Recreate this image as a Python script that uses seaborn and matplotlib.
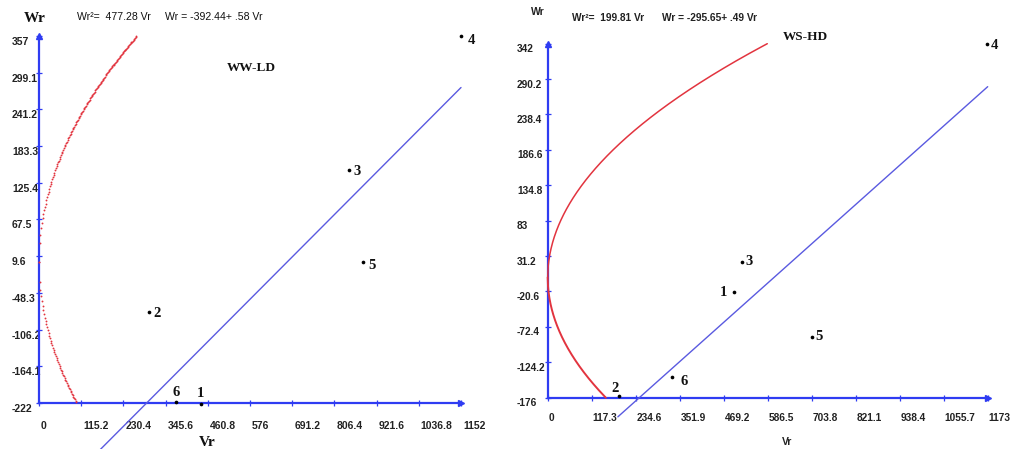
import numpy as np
import matplotlib
matplotlib.use("Agg")
import matplotlib.pyplot as plt
import matplotlib.transforms as mtransforms
import seaborn as sns

# ---- WW-LD panel -------------------------------------------------------
ww_arrays = ["1", "2", "3", "4", "5", "6"]
ww_vr = [442, 300, 846, 1152, 884, 374]
ww_wr = [-223, -78, 146, 357, 1, -221]
ww_vp = 477.28                      # Wr^2 = Vp * Vr
ww_a, ww_b = -392.44, 0.58          # regression Wr = a + b Vr
ww_xticks = [0, 115.2, 230.4, 345.6, 460.8, 576, 691.2, 806.4, 921.6, 1036.8, 1152]
ww_yticks = [-222, -164.1, -106.2, -48.3, 9.6, 67.5, 125.4, 183.3, 241.2, 299.1, 357]

# ---- WS-HD panel -------------------------------------------------------
ws_arrays = ["1", "2", "3", "4", "5", "6"]
ws_vr = [497, 190, 519, 1170, 705, 331]
ws_wr = [-21, -174, 23, 342, -87, -145]
ws_vp = 199.81
ws_a, ws_b = -295.65, 0.49
ws_xticks = [0, 117.3, 234.6, 351.9, 469.2, 586.5, 703.8, 821.1, 938.4, 1055.7, 1173]
ws_yticks = [-176, -124.2, -72.4, -20.6, 31.2, 83, 134.8, 186.6, 238.4, 290.2, 342]

BLUE = "#2f3cf2"
LINE_BLUE = "#5a5ae0"
RED = "#e2343f"
SERIF = "Liberation Serif"
SANS = ["Liberation Sans", "DejaVu Sans"]

sns.set_theme(style="white")
plt.rcParams["font.family"] = SANS

W, H = 1010, 449
fig = plt.figure(figsize=(W / 100, H / 100), dpi=100)


def px_offset(dx, dy):
    return mtransforms.Affine2D().translate(dx, dy)


def setup_axes(ax, xticks, yticks, tick_size, ypad, yshift, xpad, xshift):
    ax.set_facecolor("white")
    ax.grid(False)
    for side in ("top", "right"):
        ax.spines[side].set_visible(False)
    ax.spines["left"].set_position(("data", 0))
    ax.spines["bottom"].set_position(("data", yticks[0]))
    ax.spines["left"].set_bounds(yticks[0], yticks[-1])
    ax.spines["bottom"].set_bounds(0, xticks[-1])
    for side in ("left", "bottom"):
        ax.spines[side].set_color(BLUE)
        ax.spines[side].set_linewidth(1.6)
        ax.spines[side].set_zorder(1)
    ax.set_xticks(xticks, [f"{v:g}" for v in xticks])
    ax.set_yticks(yticks, [f"{v:g}" for v in yticks])
    ax.tick_params(bottom=True, left=True, direction="inout", length=4.5,
                   width=0.9, color=BLUE)
    ax.tick_params(axis="y", pad=ypad)
    ax.tick_params(axis="x", pad=xpad)
    ax.set_xlabel("")
    ax.set_ylabel("")
    for lab in ax.get_yticklabels():
        lab.set_ha("left")
        lab.set_va("center")
        lab.set_fontsize(tick_size)
        lab.set_fontweight("bold")
        lab.set_color("#222222")
        lab.set_transform(lab.get_transform() + px_offset(0, yshift))
    for lab in ax.get_xticklabels():
        lab.set_ha("left")
        lab.set_va("top")
        lab.set_fontsize(tick_size)
        lab.set_fontweight("bold")
        lab.set_color("#222222")
        lab.set_transform(lab.get_transform() + px_offset(xshift, 0))
    # arrow heads at the axis ends
    ax.plot([0], [yticks[-1]], marker="^", color=BLUE, markersize=5,
            clip_on=False, zorder=3)
    ax.plot([xticks[-1]], [yticks[0]], marker=">", color=BLUE, markersize=5,
            clip_on=False, zorder=3)


def draw_points(ax, vr, wr, names, offsets, size):
    sns.scatterplot(x=vr, y=wr, ax=ax, color="black", s=7, linewidth=0,
                    zorder=4, legend=False)
    for x, y, name, (dx, dy) in zip(vr, wr, names, offsets):
        ax.annotate(name, (x, y), xytext=(dx, dy), textcoords="offset pixels",
                    ha="center", va="center", family=SERIF,
                    fontweight="bold", fontsize=size, color="#111111")


# ======================= left panel: WW-LD ==============================
axL = fig.add_axes([0, 0, 505 / W, 1])
sxL, syL = 115.2 / 42.2, 57.9 / 36.7
axL.set_xlim(-39 * sxL, (505 - 39) * sxL)
axL.set_ylim(-222 - 46 * syL, -222 + 403 * syL)

# limiting parabola Wr^2 = Vp*Vr, sampled evenly in Vr
vr_up = np.arange(0, ww_yticks[-1] ** 2 / ww_vp, 2.0)
vr_lo = np.arange(0, ww_yticks[0] ** 2 / ww_vp, 2.0)
sns.scatterplot(x=np.r_[vr_up, vr_lo],
                y=np.r_[np.sqrt(ww_vp * vr_up), -np.sqrt(ww_vp * vr_lo)],
                ax=axL, color=RED, s=1.8, linewidth=0, legend=False, zorder=2)

vr_reg = np.linspace(160, ww_xticks[-1], 50)
sns.lineplot(x=vr_reg, y=ww_a + ww_b * vr_reg, ax=axL, color=LINE_BLUE,
             linewidth=1.0, zorder=2)

setup_axes(axL, ww_xticks, ww_yticks, 7.5,
           ypad=17.2, yshift=-6, xpad=10.5, xshift=2)

draw_points(axL, ww_vr, ww_wr, ww_arrays,
            [(0, 10), (8, -2), (8, -2), (10, -5), (9, -4), (0, 10)], 10.5)

fig.text(35 / W, 1 - 19 / H, "Wr", family=SERIF, fontweight="bold",
         fontsize=11, ha="center", va="center", color="#111111")
fig.text(77 / W, 1 - 17 / H, "Wr²=  477.28 Vr",
         fontsize=7.6, ha="left", va="center", color="#111111")
fig.text(165 / W, 1 - 17 / H, "Wr = -392.44+ .58 Vr",
         fontsize=7.6, ha="left", va="center", color="#111111")
fig.text(251 / W, 1 - 68 / H, "WW-LD", family=SERIF, fontweight="bold",
         fontsize=9.5, ha="center", va="center", color="#111111")
fig.text(207 / W, 1 - 442 / H, "Vr", family=SERIF, fontweight="bold",
         fontsize=11, ha="center", va="center", color="#111111")

# ======================= right panel: WS-HD =============================
axR = fig.add_axes([505 / W, 0, 505 / W, 1])
sxR, syR = 117.3 / 44.0, 51.8 / 35.4
x0R = 547.7 - 505
axR.set_xlim(-x0R * sxR, (505 - x0R) * sxR)
axR.set_ylim(-176 - (449 - 397.7) * syR, -176 + 397.7 * syR)

vr_up = np.linspace(0, ws_yticks[-1] ** 2 / ws_vp, 400)
vr_lo = np.linspace(0, ws_yticks[0] ** 2 / ws_vp, 200)
sns.lineplot(x=vr_up, y=np.sqrt(ws_vp * vr_up), ax=axR, color=RED,
             linewidth=1.1, zorder=2)
sns.lineplot(x=vr_lo, y=-np.sqrt(ws_vp * vr_lo), ax=axR, color=RED,
             linewidth=1.4, zorder=2)

vr_reg = np.linspace(187, ws_xticks[-1], 50)
sns.lineplot(x=vr_reg, y=ws_a + ws_b * vr_reg, ax=axR, color=LINE_BLUE,
             linewidth=1.0, zorder=2)

setup_axes(axR, ws_xticks, ws_yticks, 7.3,
           ypad=19.9, yshift=-5.6, xpad=8.5, xshift=1)

draw_points(axR, ws_vr, ws_wr, ws_arrays,
            [(-11, -1), (-4, 8), (7, 0), (8, -2), (7, 0), (12, -5)], 10.5)

fig.text(538 / W, 1 - 12 / H, "Wr", fontweight="bold", fontsize=7.5,
         ha="center", va="center", color="#222222")
fig.text(572 / W, 1 - 18 / H, "Wr²=  199.81 Vr",
         fontweight="bold", fontsize=7.3, ha="left", va="center", color="#222222")
fig.text(662 / W, 1 - 18 / H, "Wr = -295.65+ .49 Vr",
         fontweight="bold", fontsize=7.3, ha="left", va="center", color="#222222")
fig.text(805 / W, 1 - 37 / H, "WS-HD", family=SERIF, fontweight="bold",
         fontsize=9.5, ha="center", va="center", color="#111111")
fig.text(787 / W, 1 - 442 / H, "Vr", fontweight="bold", fontsize=7.5,
         ha="center", va="center", color="#222222")

fig.savefig("out.png", dpi=100, facecolor="white")
